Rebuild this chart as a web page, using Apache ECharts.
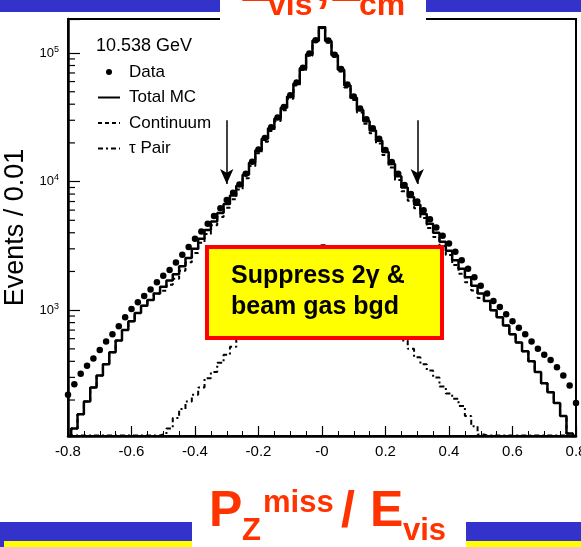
<!DOCTYPE html>
<html>
<head>
<meta charset="utf-8">
<script src="https://cdn.jsdelivr.net/npm/echarts@6/dist/echarts.min.js"></script>
<style>html,body{margin:0;padding:0;background:#fff;}</style>
</head>
<body>
<div id="main" style="width:581px;height:547px;"></div>
<script type="text/javascript">
    var FONT = '"Liberation Sans", Arial, Helvetica, sans-serif';
    var RED = '#ff3300';
    var BLUE = '#3333cc';

    // bin centres (Pz miss / Evis), 0.02 wide
    var xBins = [-0.80, -0.78, -0.76, -0.74, -0.72, -0.70, -0.68, -0.66, -0.64, -0.62,
        -0.60, -0.58, -0.56, -0.54, -0.52, -0.50, -0.48, -0.46, -0.44, -0.42,
        -0.40, -0.38, -0.36, -0.34, -0.32, -0.30, -0.28, -0.26, -0.24, -0.22,
        -0.20, -0.18, -0.16, -0.14, -0.12, -0.10, -0.08, -0.06, -0.04, -0.02,
        0.00, 0.02, 0.04, 0.06, 0.08, 0.10, 0.12, 0.14, 0.16, 0.18,
        0.20, 0.22, 0.24, 0.26, 0.28, 0.30, 0.32, 0.34, 0.36, 0.38,
        0.40, 0.42, 0.44, 0.46, 0.48, 0.50, 0.52, 0.54, 0.56, 0.58,
        0.60, 0.62, 0.64, 0.66, 0.68, 0.70, 0.72, 0.74, 0.76, 0.78, 0.80];

    var dataEvents = [220, 265, 320, 370, 420, 490, 570, 650, 750, 880,
        1020, 1150, 1290, 1450, 1650, 1850, 2050, 2350, 2700, 3100,
        3600, 4100, 4700, 5400, 6200, 7200, 8200, 9500, 11500, 14300,
        17800, 21800, 26500, 31500, 38000, 47000, 59000, 77000, 99000, 126000,
        162000, 125000, 97000, 75000, 57000, 46000, 37000, 30500, 26000, 21500,
        17600, 14200, 11500, 9400, 8000, 7000, 6000, 5100, 4400, 3800,
        3300, 2850, 2450, 2100, 1800, 1550, 1350, 1180, 1060, 930,
        820, 730, 650, 570, 500, 450, 410, 360, 310, 260, 190];

    var totalMC = [95, 120, 155, 195, 250, 310, 380, 470, 580, 700,
        820, 950, 1080, 1200, 1350, 1520, 1700, 1900, 2200, 2550,
        3000, 3600, 4200, 4900, 5700, 6700, 7800, 9300, 11300, 14000,
        17500, 21500, 26000, 31000, 37500, 46000, 58000, 76000, 98000, 125000,
        160000, 124000, 96000, 74000, 56000, 45000, 36000, 29500, 25000, 20800,
        17000, 13700, 11000, 9000, 7600, 6600, 5600, 4700, 4000, 3400,
        2900, 2450, 2100, 1800, 1550, 1350, 1180, 1000, 880, 760,
        650, 560, 480, 400, 330, 270, 230, 190, 150, 110, 90];

    var continuum = [95, 120, 155, 195, 250, 310, 380, 470, 580, 700,
        820, 950, 1080, 1200, 1350, 1415, 1580, 1755, 2030, 2355,
        2780, 3350, 3905, 4570, 5310, 6250, 7280, 8700, 10600, 13200,
        16580, 20450, 24800, 29600, 35900, 44200, 55950, 73650, 95350, 122000,
        156800, 121000, 93400, 71700, 54000, 43200, 34450, 28150, 23800, 19800,
        16100, 12900, 10300, 8400, 7100, 6200, 5200, 4350, 3700, 3150,
        2680, 2250, 1920, 1650, 1425, 1245, 1180, 1000, 880, 760,
        650, 560, 480, 400, 330, 270, 230, 190, 150, 110, 90];

    var tauPair = [106, 106, 106, 106, 106, 106, 106, 106, 106, 106,
        106, 106, 106, 106, 106, 108, 120, 145, 170, 195,
        220, 250, 295, 330, 390, 450, 520, 600, 700, 800,
        920, 1050, 1200, 1380, 1580, 1800, 2050, 2350, 2650, 3000,
        3200, 2950, 2600, 2300, 2000, 1780, 1550, 1350, 1180, 1020,
        880, 780, 680, 580, 500, 430, 380, 340, 300, 255,
        225, 205, 180, 150, 125, 108, 106, 106, 106, 106,
        106, 106, 106, 106, 106, 106, 106, 106, 106, 106, 106];

    var yMin = 105;
    var yMax = 184000;

    // cut arrows
    var arrowX = [-0.3, 0.3];
    var arrowTop = 30000;
    var arrowTip = 9600;

    function pairs(arr) {
        return xBins.map(function (x, i) { return [x, arr[i]]; });
    }

    // line entries in the legend: no symbol, only the line
    var noDot = { color: 'rgba(0,0,0,0)', borderWidth: 0 };

    var myChart = echarts.init(document.getElementById('main'));

    var option = {
        animation: false,
        backgroundColor: '#fff',
        textStyle: { fontFamily: FONT },
        title: {
            text: '10.538 GeV',
            left: 96, top: 37, padding: 0,
            textStyle: { fontFamily: FONT, fontSize: 18, fontWeight: 'normal', color: '#000' }
        },
        legend: {
            orient: 'vertical',
            left: 97, top: 62, padding: 0,
            itemWidth: 22, itemHeight: 6, itemGap: 5.5,
            selectedMode: false,
            textStyle: { fontFamily: FONT, fontSize: 17, color: '#000', lineHeight: 20, padding: [0, 0, 0, 4] },
            data: [
                { name: 'Data' },
                { name: 'Total MC', itemStyle: noDot },
                { name: 'Continuum', itemStyle: noDot },
                { name: 'τ Pair', itemStyle: noDot }
            ]
        },
        grid: {
            left: 68, right: 5, top: 19, bottom: 111,
            containLabel: false, outerBoundsMode: 'none',
            show: true, borderColor: '#000', borderWidth: 2
        },
        xAxis: {
            type: 'value', min: -0.8, max: 0.8, interval: 0.2,
            axisLine: { onZero: false, lineStyle: { color: '#000', width: 2.5 } },
            axisTick: { inside: true, length: 10, lineStyle: { color: '#000', width: 1.2 } },
            minorTick: { show: true, splitNumber: 4, length: 5, lineStyle: { color: '#000', width: 1 } },
            splitLine: { show: false },
            axisLabel: {
                margin: 8, color: '#000', fontSize: 15, fontFamily: FONT,
                formatter: function (v) {
                    if (Math.abs(v) < 1e-9) return '-0';
                    return v.toFixed(1);
                }
            }
        },
        yAxis: {
            type: 'log', logBase: 10, min: yMin, max: yMax,
            name: 'Events / 0.01', nameLocation: 'middle', nameGap: 38,
            nameTextStyle: { fontFamily: FONT, fontSize: 27, color: '#000' },
            axisLine: { show: true, onZero: false, lineStyle: { color: '#000', width: 2.5 } },
            axisTick: { inside: true, length: 12, lineStyle: { color: '#000', width: 1.2 } },
            splitLine: { show: false },
            axisLabel: {
                margin: 9, color: '#000',
                formatter: function (v) {
                    var e = Math.log(v) / Math.LN10;
                    if (Math.abs(e - Math.round(e)) > 1e-6 || e < 2.5) return '';
                    return '{b|10}{e|' + Math.round(e) + '}';
                },
                rich: {
                    b: { fontSize: 13, fontFamily: FONT, color: '#000' },
                    e: { fontSize: 9, fontFamily: FONT, color: '#000', padding: [0, 0, 8, 0] }
                }
            }
        },
        series: [
            {
                name: 'τ Pair', type: 'line', step: 'middle', symbol: 'none',
                data: pairs(tauPair),
                lineStyle: { color: '#000', width: 2, type: [5, 3, 2, 3] },
                itemStyle: { color: '#000' }
            },
            {
                name: 'Continuum', type: 'line', step: 'middle', symbol: 'none',
                data: pairs(continuum),
                lineStyle: { color: '#000', width: 2, type: [4, 3] },
                itemStyle: { color: '#000' }
            },
            {
                name: 'Total MC', type: 'line', step: 'middle', symbol: 'none',
                data: pairs(totalMC),
                lineStyle: { color: '#000', width: 2.5 },
                itemStyle: { color: '#000' },
                markLine: {
                    silent: true,
                    symbol: ['none', 'arrow'],
                    symbolSize: [10, 15],
                    label: { show: false },
                    lineStyle: { color: '#000', width: 1.5, type: 'solid' },
                    data: arrowX.map(function (x) {
                        return [{ coord: [x, arrowTop] }, { coord: [x, arrowTip] }];
                    })
                }
            },
            {
                name: 'Data', type: 'scatter', symbol: 'circle', symbolSize: 6.5,
                data: pairs(dataEvents),
                itemStyle: { color: '#000', opacity: 1 }
            }
        ]
    };

    myChart.setOption(option);

    // minor log ticks (2..9 x decade) on the left axis
    var graphics = [];
    var decades = [100, 1000, 10000, 100000];
    decades.forEach(function (d) {
        for (var k = 2; k <= 9; k++) {
            var v = k * d;
            if (v >= yMax || v <= yMin) continue;
            var py = myChart.convertToPixel({ yAxisIndex: 0 }, v);
            graphics.push({
                type: 'line', z: 10, silent: true,
                shape: { x1: 68, y1: py, x2: 75, y2: py },
                style: { stroke: '#000', lineWidth: 1.2 }
            });
        }
    });

    // annotation box, drawn over the curves
    graphics.push(
        { type: 'rect', z: 100, silent: true, shape: { x: 207, y: 247, width: 235, height: 91 },
          style: { fill: '#ffff00', stroke: '#ff0000', lineWidth: 4 } },
        { type: 'text', z: 101, silent: true, x: 231, y: 261, style: {
            text: 'Suppress 2γ &\nbeam gas bgd', fontFamily: FONT, fontSize: 25,
            fontWeight: 'bold', fill: '#000', lineHeight: 31 } }
    );

    // slide decoration: top band with clipped heading
    graphics.push(
        { type: 'rect', z: 50, silent: true, shape: { x: 0, y: 0, width: 581, height: 12 }, style: { fill: BLUE } },
        { type: 'rect', z: 51, silent: true, shape: { x: 220, y: 0, width: 206, height: 26 }, style: { fill: '#fff' } },
        { type: 'text', z: 52, x: 239, y: -13, style: { text: 'E', fontFamily: FONT, fontSize: 50, fontWeight: 'bold', fill: RED, verticalAlign: 'middle' } },
        { type: 'text', z: 52, x: 268, y: 6, style: { text: 'vis', fontFamily: FONT, fontSize: 32, fontWeight: 'bold', fill: RED, verticalAlign: 'middle' } },
        { type: 'text', z: 52, x: 316, y: -13, style: { text: ',', fontFamily: FONT, fontSize: 50, fontWeight: 'bold', fill: RED, verticalAlign: 'middle' } },
        { type: 'text', z: 52, x: 329, y: -13, style: { text: 'E', fontFamily: FONT, fontSize: 50, fontWeight: 'bold', fill: RED, verticalAlign: 'middle' } },
        { type: 'text', z: 52, x: 359, y: 6, style: { text: 'cm', fontFamily: FONT, fontSize: 32, fontWeight: 'bold', fill: RED, verticalAlign: 'middle' } }
    );

    // bottom band with the x-axis heading
    graphics.push(
        { type: 'rect', z: 50, silent: true, shape: { x: 0, y: 522, width: 192, height: 25 }, style: { fill: BLUE } },
        { type: 'rect', z: 51, silent: true, shape: { x: 4, y: 541, width: 188, height: 6 }, style: { fill: '#ffff00' } },
        { type: 'rect', z: 50, silent: true, shape: { x: 466, y: 522, width: 115, height: 25 }, style: { fill: BLUE } },
        { type: 'rect', z: 51, silent: true, shape: { x: 466, y: 541, width: 115, height: 6 }, style: { fill: '#ffff00' } },
        { type: 'text', z: 52, x: 209, y: 512, style: { text: 'P', fontFamily: FONT, fontSize: 50, fontWeight: 'bold', fill: RED, verticalAlign: 'middle' } },
        { type: 'text', z: 52, x: 242, y: 531, style: { text: 'Z', fontFamily: FONT, fontSize: 31, fontWeight: 'bold', fill: RED, verticalAlign: 'middle' } },
        { type: 'text', z: 52, x: 263, y: 503, style: { text: 'miss', fontFamily: FONT, fontSize: 31, fontWeight: 'bold', fill: RED, verticalAlign: 'middle' } },
        { type: 'text', z: 52, x: 341, y: 512, style: { text: '/', fontFamily: FONT, fontSize: 50, fontWeight: 'bold', fill: RED, verticalAlign: 'middle' } },
        { type: 'text', z: 52, x: 370, y: 512, style: { text: 'E', fontFamily: FONT, fontSize: 50, fontWeight: 'bold', fill: RED, verticalAlign: 'middle' } },
        { type: 'text', z: 52, x: 403, y: 531, style: { text: 'vis', fontFamily: FONT, fontSize: 31, fontWeight: 'bold', fill: RED, verticalAlign: 'middle' } }
    );

    myChart.setOption({ graphic: graphics });
</script>
</body>
</html>
